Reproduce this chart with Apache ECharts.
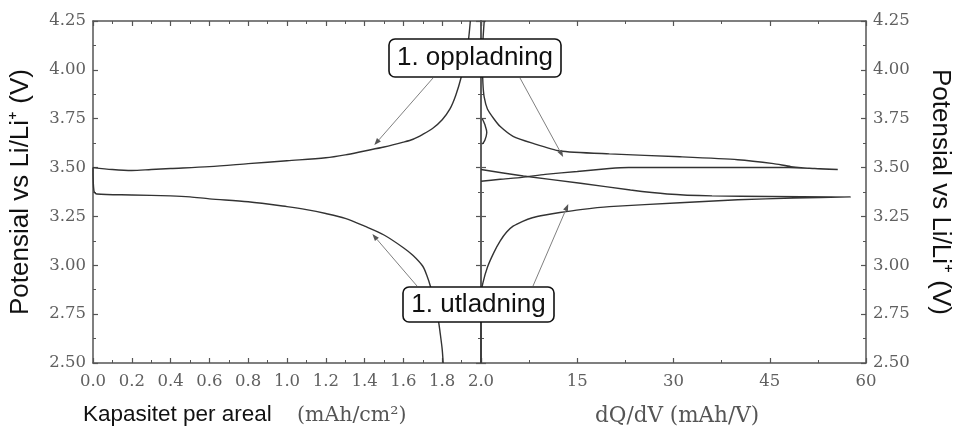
<!DOCTYPE html>
<html>
<head>
<meta charset="utf-8">
<script src="https://cdn.jsdelivr.net/npm/echarts@6/dist/echarts.min.js"></script>
<style>
  html, body { margin: 0; padding: 0; background: #fff; }
  #chart { width: 957px; height: 432px; }
</style>
</head>
<body>
<div id="chart"></div>
<script>
// ---- Left panel: first cycle, potential vs areal capacity (mAh/cm²) ----
const capCharge = [0, 0.1, 0.2, 0.3, 0.4, 0.6, 0.8, 1.0, 1.2, 1.3, 1.4, 1.5, 1.6, 1.65, 1.7, 1.75, 1.8, 1.84, 1.87, 1.9, 1.92, 1.935, 1.945];
const vCharge   = [3.50, 3.49, 3.485, 3.49, 3.495, 3.505, 3.52, 3.535, 3.55, 3.565, 3.585, 3.605, 3.63, 3.645, 3.67, 3.70, 3.745, 3.80, 3.87, 3.97, 4.06, 4.15, 4.25];

const capDischarge = [0, 0.005, 0.02, 0.2, 0.4, 0.5, 0.6, 0.8, 1.0, 1.1, 1.2, 1.3, 1.4, 1.5, 1.6, 1.65, 1.7, 1.72, 1.74, 1.76, 1.78, 1.79, 1.80, 1.805];
const vDischarge   = [3.50, 3.38, 3.365, 3.36, 3.355, 3.35, 3.34, 3.325, 3.30, 3.285, 3.265, 3.24, 3.20, 3.155, 3.09, 3.05, 2.995, 2.95, 2.89, 2.81, 2.72, 2.65, 2.57, 2.50];

// ---- Right panel: differential capacity dQ/dV (mAh/V) vs potential ----
const dqdvCharge  = [0, 3, 6.4, 10, 15, 20, 23, 30, 40, 48, 52, 55.6, 52, 48.3, 45.6, 40, 31, 20, 12.3, 8, 5, 3, 2, 1, 0.5, 0.3, 0.2, 0.3, 0.5];
const vDqdvCharge = [3.43, 3.44, 3.45, 3.465, 3.48, 3.495, 3.50, 3.50, 3.50, 3.50, 3.495, 3.49, 3.495, 3.505, 3.52, 3.54, 3.555, 3.57, 3.585, 3.625, 3.66, 3.71, 3.75, 3.80, 3.86, 3.93, 4.05, 4.15, 4.25];

const dqdvChargeStart  = [0.2, 0.6, 0.9, 0.6, 0.2];
const vDqdvChargeStart = [3.75, 3.72, 3.68, 3.64, 3.62];

const dqdvDischarge  = [0, 6.6, 15.5, 23.3, 29, 36, 45, 57.6, 48.7, 40, 31, 20, 15.5, 12.3, 10, 8, 6.5, 5, 4, 3, 2, 1, 0.3, 0, 0];
const vDqdvDischarge = [3.49, 3.457, 3.42, 3.385, 3.365, 3.355, 3.352, 3.35, 3.344, 3.335, 3.32, 3.30, 3.285, 3.27, 3.257, 3.243, 3.225, 3.20, 3.17, 3.125, 3.065, 2.99, 2.91, 2.85, 2.50];

// Axis ranges and tick spacing
const potentialRange = [2.5, 4.25, 0.25];
const capacityRange  = [0, 2.0, 0.2];
const dqdvRange      = [0, 60, 15];

// Annotation arrow targets (data coordinates of the curve points they mark)
const chargeTargetCap  = [1.45, 3.615];
const chargeTargetDqdv = [12.8, 3.554];
const dischargeTargetCap  = [1.44, 3.16];
const dischargeTargetDqdv = [13.6, 3.313];

const zip = (xs, ys) => xs.map((x, i) => [x, ys[i]]);

const AXIS_COLOR = '#555';
const LABEL_FONT = { fontFamily: 'DejaVu Serif', fontSize: 16.5, color: '#606060' };

function valueAxis(opts) {
  return Object.assign({
    type: 'value',
    splitLine: { show: false },
    axisLine: { show: true, onZero: false, lineStyle: { color: AXIS_COLOR, width: 1.5 } },
    axisTick: { show: true, inside: true, length: 5, lineStyle: { color: AXIS_COLOR, width: 1.2 } },
    minorTick: { show: true, splitNumber: 2, length: 3, lineStyle: { color: AXIS_COLOR, width: 1 } },
    axisLabel: { show: false }
  }, opts);
}

const lineSeries = (xi, yi, data, smooth) => ({
  type: 'line', xAxisIndex: xi, yAxisIndex: yi, data,
  showSymbol: false, symbol: 'none', silent: true, smooth: smooth || false,
  lineStyle: { color: '#333', width: 1.4 }
});

const chart = echarts.init(document.getElementById('chart'), null, { renderer: 'canvas' });

const option = {
  animation: false,
  backgroundColor: '#fff',
  grid: [
    { left: 93, right: 476, top: 21, bottom: 69 },
    { left: 481, right: 91, top: 21, bottom: 69 }
  ],
  xAxis: [
    valueAxis({ gridIndex: 0, position: 'bottom', min: capacityRange[0], max: capacityRange[1], interval: capacityRange[2],
      axisLabel: Object.assign({ show: true, margin: 10, showMaxLabel: true, formatter: v => v.toFixed(1) }, LABEL_FONT) }),
    valueAxis({ gridIndex: 0, position: 'top', min: capacityRange[0], max: capacityRange[1], interval: capacityRange[2] }),
    valueAxis({ gridIndex: 1, position: 'bottom', min: dqdvRange[0], max: dqdvRange[1], interval: dqdvRange[2],
      axisLabel: Object.assign({ show: true, margin: 10, formatter: v => (v === 0 ? '' : String(v)) }, LABEL_FONT) }),
    valueAxis({ gridIndex: 1, position: 'top', min: dqdvRange[0], max: dqdvRange[1], interval: dqdvRange[2] })
  ],
  yAxis: [
    valueAxis({ gridIndex: 0, position: 'left', min: potentialRange[0], max: potentialRange[1], interval: potentialRange[2],
      name: 'Potensial vs Li/Li\u207A (V)', nameLocation: 'middle', nameGap: 59, nameRotate: 90,
      nameTextStyle: { fontFamily: 'Liberation Sans', fontSize: 26, color: '#111' },
      axisLabel: Object.assign({ show: true, margin: 7, formatter: v => v.toFixed(2) }, LABEL_FONT) }),
    valueAxis({ gridIndex: 0, position: 'right', min: potentialRange[0], max: potentialRange[1], interval: potentialRange[2] }),
    valueAxis({ gridIndex: 1, position: 'left', min: potentialRange[0], max: potentialRange[1], interval: potentialRange[2] }),
    valueAxis({ gridIndex: 1, position: 'right', min: potentialRange[0], max: potentialRange[1], interval: potentialRange[2],
      name: 'Potensial vs Li/Li\u207A (V)', nameLocation: 'middle', nameGap: 61, nameRotate: -90,
      nameTextStyle: { fontFamily: 'Liberation Sans', fontSize: 26, color: '#111' },
      axisLabel: Object.assign({ show: true, margin: 7, formatter: v => v.toFixed(2) }, LABEL_FONT) })
  ],
  series: [
    lineSeries(0, 0, zip(capCharge, vCharge), 0.3),
    lineSeries(0, 0, zip(capDischarge, vDischarge), 0.3),
    lineSeries(2, 3, zip(dqdvCharge, vDqdvCharge), 0.2),
    lineSeries(2, 3, zip(dqdvChargeStart, vDqdvChargeStart), 0.3),
    lineSeries(2, 3, zip(dqdvDischarge, vDqdvDischarge), 0.2)
  ]
};
chart.setOption(option);

// Annotations: labelled boxes with thin arrows pointing at the curves
function arrow(from, to) {
  const dx = to[0] - from[0], dy = to[1] - from[1];
  const len = Math.hypot(dx, dy);
  const ux = dx / len, uy = dy / len;
  const hl = 7, hw = 2.6;
  const bx = to[0] - ux * hl, by = to[1] - uy * hl;
  return [
    { type: 'line', z: 50, silent: true,
      shape: { x1: from[0], y1: from[1], x2: bx, y2: by },
      style: { stroke: '#808080', lineWidth: 1 } },
    { type: 'polygon', z: 50, silent: true,
      shape: { points: [to, [bx - uy * hw, by + ux * hw], [bx + uy * hw, by - ux * hw]] },
      style: { fill: '#555' } }
  ];
}
function labelBox(x, y, w, h, text) {
  return [
    { type: 'rect', z: 60, silent: true,
      shape: { x, y, width: w, height: h, r: 6 },
      style: { fill: '#fff', stroke: '#111', lineWidth: 1.6 } },
    { type: 'text', z: 61, silent: true,
      style: { x: x + w / 2, y: y + h / 2, text, align: 'center', verticalAlign: 'middle',
               font: '26px "Liberation Sans", Arial, sans-serif', fill: '#111' } }
  ];
}
const px = (gridIndex, pt) => chart.convertToPixel({ gridIndex }, pt);

const graphics = [].concat(
  arrow([433, 78], px(0, chargeTargetCap)),
  arrow([520, 78], px(1, chargeTargetDqdv)),
  arrow([417, 286], px(0, dischargeTargetCap)),
  arrow([533, 286], px(1, dischargeTargetDqdv)),
  labelBox(389, 39, 172, 38, '1. oppladning'),
  labelBox(403, 287, 151, 35, '1. utladning'),
  [
    { type: 'text', silent: true,
      style: { x: 83, y: 415, text: 'Kapasitet per areal', verticalAlign: 'middle',
               font: '22.5px "Liberation Sans", Arial, sans-serif', fill: '#111' } },
    { type: 'text', silent: true,
      style: { x: 297, y: 416, text: '(mAh/cm\u00B2)', verticalAlign: 'middle',
               font: '20.5px "DejaVu Serif", serif', fill: '#555' } },
    { type: 'text', silent: true,
      style: { x: 595, y: 416, text: 'dQ/dV (mAh/V)', verticalAlign: 'middle',
               font: '21.5px "DejaVu Serif", serif', fill: '#555' } }
  ]
);
chart.setOption({ graphic: graphics });
</script>
</body>
</html>
